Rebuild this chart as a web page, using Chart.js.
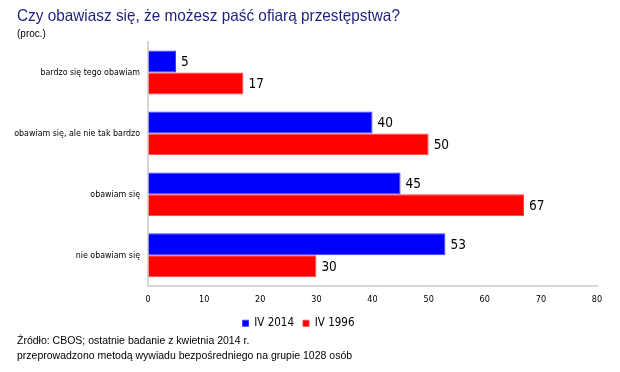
<!DOCTYPE html>
<html>
<head>
<meta charset="utf-8">
<script src="https://cdn.jsdelivr.net/npm/chart.js@4/dist/chart.umd.min.js"></script>
<style>
  html, body { margin:0; padding:0; background:#fff; }
  #wrap { position:relative; width:620px; height:372px; }
  #chart { position:absolute; left:0; top:0; }
  .txt { position:absolute; font-family:"Liberation Sans", Arial, sans-serif; white-space:nowrap; z-index:2; transform-origin:left top; }
  #title { left:17px; top:6px; font-size:16.5px; color:#1f1f7f; transform:scaleX(0.93); }
  #sub { left:17px; top:28px; font-size:10px; color:#000; }
  #foot1 { left:17px; top:334px; font-size:10.5px; color:#000; }
  #foot2 { left:17px; top:349px; font-size:10.5px; color:#000; }
</style>
</head>
<body>
<div id="wrap">
  <div class="txt" id="title">Czy obawiasz się, że możesz paść ofiarą przestępstwa?</div>
  <div class="txt" id="sub">(proc.)</div>
  <canvas id="chart" width="620" height="372"></canvas>
  <div class="txt" id="foot1">Źródło: CBOS; ostatnie badanie z kwietnia 2014 r.</div>
  <div class="txt" id="foot2">przeprowadzono metodą wywiadu bezpośredniego na grupie 1028 osób</div>
</div>
<script>
// data
const categories = ['bardzo się tego obawiam', 'obawiam się, ale nie tak bardzo', 'obawiam się', 'nie obawiam się'];
const series2014 = [5, 40, 45, 53];
const series1996 = [17, 50, 67, 30];
const seriesNames = ['IV 2014', 'IV 1996'];
const xTicks = [0, 10, 20, 30, 40, 50, 60, 70, 80];

const labelFont = '"DejaVu Sans Condensed", "Liberation Sans", sans-serif';

// value labels at the end of each bar
const valueLabels = {
  id: 'valueLabels',
  afterDatasetsDraw(chart) {
    const ctx = chart.ctx;
    ctx.save();
    ctx.font = '13.5px ' + labelFont;
    ctx.fillStyle = '#000';
    ctx.textBaseline = 'middle';
    ctx.textAlign = 'left';
    chart.data.datasets.forEach((ds, i) => {
      chart.getDatasetMeta(i).data.forEach((el, j) => {
        ctx.fillText(String(ds.data[j]), el.x + 5, el.y + 1);
      });
    });
    ctx.restore();
  }
};

new Chart(document.getElementById('chart'), {
  type: 'bar',
  data: {
    labels: categories,
    datasets: [
      {label: seriesNames[0], data: series2014, backgroundColor: '#0000ff', borderColor: '#3a3aff', borderWidth: 1, borderSkipped: 'left'},
      {label: seriesNames[1], data: series1996, backgroundColor: '#ff0000', borderColor: '#ff3a3a', borderWidth: 1, borderSkipped: 'left'}
    ]
  },
  options: {
    indexAxis: 'y',
    responsive: false,
    animation: false,
    layout: {padding: {top: 42, right: 23, left: 0, bottom: 33}},
    datasets: {bar: {categoryPercentage: 0.72, barPercentage: 1}},
    scales: {
      x: {
        min: 0, max: 80,
        afterBuildTicks: s => { s.ticks = xTicks.map(v => ({value: v})); },
        afterFit: s => { s.height -= 6; },
        grid: {display: true, drawOnChartArea: false, drawTicks: false},
        border: {color: '#d6d6d6', width: 2},
        ticks: {color: '#000', font: {family: labelFont, size: 9}, padding: 9}
      },
      y: {
        afterFit: s => { s.width = 148; },
        grid: {display: true, drawOnChartArea: false, drawTicks: false},
        border: {color: '#d6d6d6', width: 2},
        ticks: {color: '#000', font: {family: labelFont, size: 8.8}, padding: 8}
      }
    },
    plugins: {
      legend: {
        position: 'bottom',
        labels: {boxWidth: 6, boxHeight: 6, color: '#000', font: {family: labelFont, size: 11.5}, padding: 9}
      },
      tooltip: {enabled: false}
    }
  },
  plugins: [valueLabels]
});
</script>
</body>
</html>
